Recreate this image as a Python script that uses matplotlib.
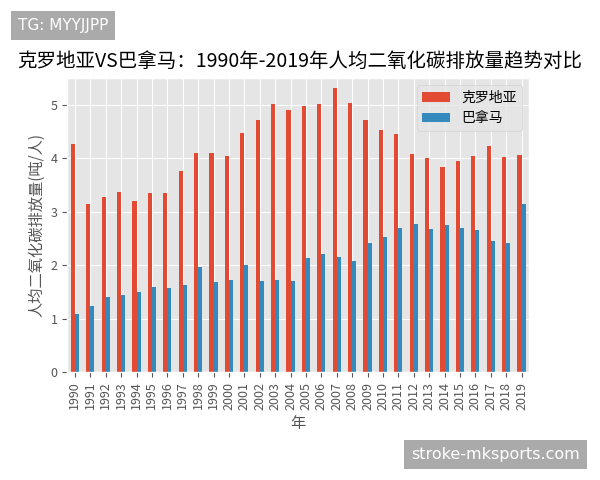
import matplotlib
matplotlib.use('Agg')
import matplotlib.pyplot as plt
import numpy as np

plt.style.use('ggplot')
plt.rcParams['font.family'] = ['Noto Sans CJK SC', 'DejaVu Sans']
plt.rcParams['axes.unicode_minus'] = False

# Данные
years = [str(y) for y in range(1990, 2020)]
croatia = [4.26, 3.14, 3.28, 3.37, 3.19, 3.34, 3.34, 3.76, 4.09, 4.10,
           4.04, 4.47, 4.71, 5.02, 4.91, 4.98, 5.02, 5.31, 5.04, 4.72,
           4.53, 4.45, 4.08, 4.00, 3.83, 3.95, 4.04, 4.22, 4.02, 4.06]
panama = [1.08, 1.23, 1.41, 1.44, 1.50, 1.59, 1.57, 1.62, 1.96, 1.68,
          1.73, 2.01, 1.71, 1.72, 1.71, 2.13, 2.21, 2.16, 2.07, 2.42,
          2.52, 2.69, 2.77, 2.67, 2.75, 2.69, 2.66, 2.46, 2.41, 3.14]
series_names = ['克罗地亚', '巴拿马']

fig = plt.figure(figsize=(6, 4.8), dpi=100)
fig.patch.set_facecolor('white')
ax = fig.add_axes([0.112, 0.225, 0.770, 0.6125])

x = np.arange(len(years))
w = 0.27
ax.bar(x - w / 2, croatia, w, color='#E24A33', label=series_names[0])
ax.bar(x + w / 2, panama, w, color='#348ABD', label=series_names[1])

ax.set_xlim(-0.5, len(years) - 0.5)
ax.set_ylim(0, 5.5)
ax.set_xticks(x)
ax.set_xticklabels(years, rotation=90, fontsize=9)
ax.tick_params(axis='y', labelsize=9)
ax.set_xlabel('年', fontsize=11)
ax.set_ylabel('人均二氧化碳排放量(吨/人)', fontsize=11)
ax.legend(loc='upper right', fontsize=10)

fig.suptitle('克罗地亚VS巴拿马：1990年-2019年人均二氧化碳排放量趋势对比',
             x=0.5, y=0.873, fontsize=14, va='center')

# Водяные знаки
fig.text(0.03, 0.947, 'TG: MYYJJPP', fontsize=11, color='white', va='center',
         family=['DejaVu Sans'],
         bbox=dict(facecolor='#aaaaaa', edgecolor='none', pad=5))
fig.text(0.685, 0.053, 'stroke-mksports.com', fontsize=11.5, color='white', va='center',
         family=['DejaVu Sans'],
         bbox=dict(facecolor='#aaaaaa', edgecolor='none', pad=5))

fig.savefig('out.png', dpi=100)
